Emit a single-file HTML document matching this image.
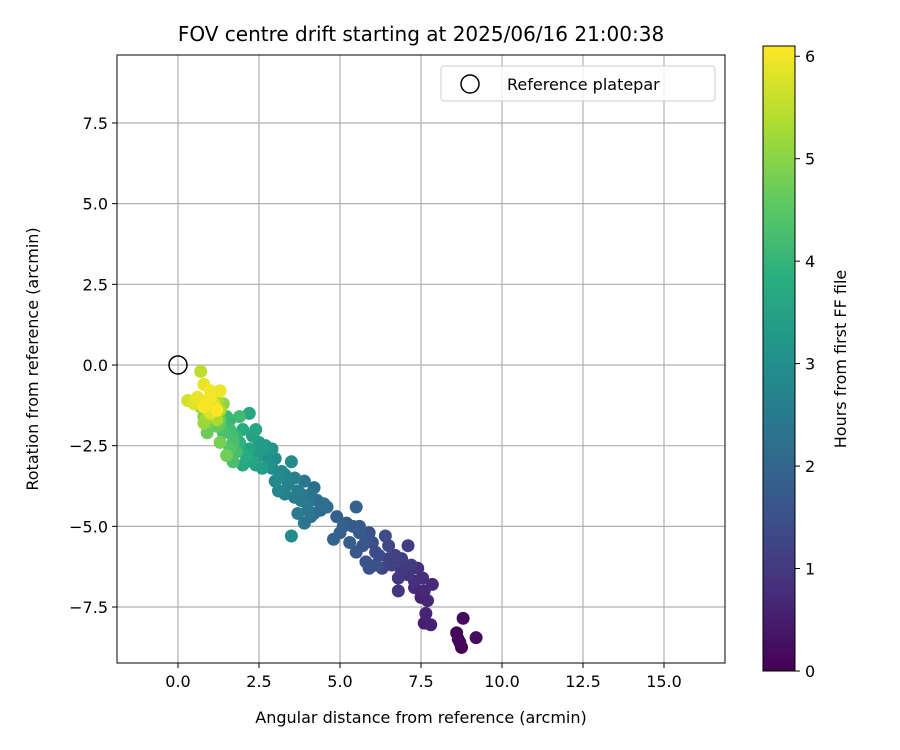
<!DOCTYPE html>
<html><head><meta charset="utf-8"><style>
body{margin:0;background:#fff;font-family:"DejaVu Sans","Liberation Sans",sans-serif;}
svg text{font-family:"DejaVu Sans","Liberation Sans",sans-serif;}
</style></head><body>
<svg id="c" width="900" height="750" xmlns="http://www.w3.org/2000/svg" style="position:absolute;left:0;top:0">
<defs><linearGradient id="vg" x1="0" y1="1" x2="0" y2="0">
<stop offset="0" stop-color="#440154"/><stop offset="0.125" stop-color="#472d7b"/><stop offset="0.25" stop-color="#3b528b"/><stop offset="0.375" stop-color="#2c728e"/><stop offset="0.5" stop-color="#21918c"/><stop offset="0.625" stop-color="#28ae80"/><stop offset="0.75" stop-color="#5ec962"/><stop offset="0.875" stop-color="#addc30"/><stop offset="1" stop-color="#fde725"/></linearGradient></defs>
<g id="grid"></g><g id="pts"></g><g id="axes"></g>
</svg>
<script>
const xs=[8.6,8.7,8.75,8.8,9.2,8.65, 7.6,7.8,7.65,7.7,7.6,7.85,7.55,7.4,7.1,7.3,7.5, 7.1,6.8,6.8,6.6,6.9,6.5,6.4,6.2,6.3,6.0,5.9,6.7,7.2, 5.5,5.2,5.6,5.8,5.5,5.8,5.9,5.3,4.9,4.8,5.0,6.1,5.4, 4.1,4.3,4.4,3.9,3.7,3.9,4.1,3.5,4.0,4.2,3.8,3.6,4.2, 3.5,3.2,3.4,3.0,3.3,2.9,3.1,3.6,2.7,3.0, 2.5,2.7,2.8,2.6,2.4,2.3,2.5,2.9, 2.2,2.0,1.9,2.1,2.3,1.8,2.0,2.4,1.6, 1.5,1.7,1.4,1.9,1.7,1.6,1.3,1.8, 1.0,0.9,1.3,1.2,0.8,1.5,1.1,1.4, 0.7,1.0,1.3,0.9,1.2,0.8, 0.7,0.8,1.0,1.3,0.3,0.5,0.8,1.1,1.0,1.2,1.0,0.9,
 6.1,6.5,7.0,5.7,5.1,4.5,4.0,3.8,3.3,2.8,2.6,2.2,1.9,1.6,1.3,1.1,6.9,7.3,5.6,4.6,3.7,3.1,2.4,1.7,1.2,0.6];
const ys=[-8.3,-8.6,-8.75,-7.85,-8.45,-8.5, -8.0,-8.05,-7.7,-7.3,-7.0,-6.8,-6.6,-6.3,-6.5,-6.7,-7.2, -5.6,-6.6,-7.0,-6.2,-6.0,-5.6,-5.3,-5.9,-6.3,-5.5,-5.2,-5.9,-6.2, -4.4,-4.9,-5.2,-5.4,-5.8,-6.1,-6.3,-5.5,-4.7,-5.4,-5.2,-6.2,-5.0, -4.0,-4.2,-4.5,-3.6,-4.6,-4.9,-4.7,-5.3,-4.3,-3.8,-4.0,-4.1,-4.6, -3.0,-3.3,-3.7,-3.6,-4.0,-3.2,-3.9,-3.5,-2.8,-2.9, -2.4,-2.5,-3.0,-3.2,-2.9,-2.2,-2.7,-2.6, -1.5,-2.0,-2.5,-2.8,-3.0,-2.2,-3.1,-2.0,-1.7, -1.6,-2.2,-2.1,-1.6,-3.0,-2.6,-1.9,-2.7, -1.7,-2.1,-2.4,-1.9,-1.6,-2.8,-1.5,-1.2, -1.3,-1.2,-1.4,-1.6,-1.1,-1.8, -0.2,-0.6,-0.8,-0.8,-1.1,-1.2,-1.3,-1.2,-1.0,-1.4,-1.5,-1.1,
 -5.8,-6.0,-6.2,-5.6,-5.0,-4.3,-4.5,-4.2,-3.4,-3.1,-2.6,-2.6,-2.4,-2.0,-1.7,-1.4,-6.4,-6.9,-5.0,-4.4,-3.9,-3.5,-3.1,-2.4,-1.7,-1.0];
const ts=[0.05,0.1,0.0,0.15,0.2,0.1, 0.5,0.55,0.6,0.65,0.7,0.75,0.8,0.85,0.9,0.8,0.6, 1.1,1.0,0.95,1.15,1.1,1.3,1.4,1.35,1.25,1.45,1.5,1.2,1.05, 1.9,1.7,1.75,1.6,1.65,1.55,1.5,1.8,1.85,1.95,1.9,1.5,1.75, 2.3,2.2,2.1,2.4,2.5,2.35,2.3,2.9,2.45,2.25,2.4,2.5,2.2, 2.9,2.8,2.7,2.85,2.6,2.95,2.75,2.65,3.0,2.9, 3.3,3.2,3.1,3.4,3.35,3.5,3.25,3.15, 3.6,3.7,3.8,3.75,3.55,3.9,3.65,3.6,4.0, 4.1,4.2,4.3,4.15,4.3,4.4,4.45,4.25, 4.6,4.7,4.8,4.65,4.9,4.75,4.85,5.0, 5.1,5.2,5.3,5.25,5.4,5.15, 5.5,5.9,6.0,5.95,5.7,5.8,6.05,5.85,6.0,6.1,5.75,6.0,
 1.4,1.2,0.9,1.6,1.9,2.2,2.4,2.5,2.8,3.1,3.3,3.6,3.9,4.2,4.6,5.0,1.0,0.7,1.7,2.2,2.6,2.9,3.4,4.3,5.3,5.9];
const xTicks=[0,2.5,5,7.5,10,12.5,15], yTicks=[-7.5,-5,-2.5,0,2.5,5,7.5], cTicks=[0,1,2,3,4,5,6];
const L=117,R=725,T=55,B=663;
const X=v=>178+v*32.4, Y=v=>365-v*32.27;
const CB0=671,CB1=46,cmax=6.1; const C=v=>CB0-v*(CB0-CB1)/cmax;
const stops=[[68,1,84],[71,45,123],[59,82,139],[44,114,142],[33,145,140],[40,174,128],[94,201,98],[173,220,48],[253,231,37]];
function vir(t){t=Math.max(0,Math.min(1,t))*8;const i=Math.min(7,Math.floor(t)),f=t-i;const a=stops[i],b=stops[i+1];return `rgb(${a.map((c,k)=>Math.round(c+(b[k]-c)*f)).join(',')})`;}
const NS="http://www.w3.org/2000/svg";
function el(tag,at,p){const e=document.createElementNS(NS,tag);for(const k in at)e.setAttribute(k,at[k]);p.appendChild(e);return e;}
const g=document.getElementById('grid'),P=document.getElementById('pts'),A=document.getElementById('axes');
xTicks.forEach(v=>{const l=el('line',{x1:X(v),x2:X(v),y1:T,y2:B,stroke:'#b0b0b0','stroke-width':1.2},g);


el('line',{x1:X(v),x2:X(v),y1:B,y2:B+5,stroke:'#000'},A);
const t=el('text',{x:X(v),y:B+24,'text-anchor':'middle','font-size':16},A);t.textContent=v.toFixed(1);

});
yTicks.forEach(v=>{const l=el('line',{x1:L,x2:R,y1:Y(v),y2:Y(v),stroke:'#b0b0b0','stroke-width':1.2},g);


el('line',{x1:L-5,x2:L,y1:Y(v),y2:Y(v),stroke:'#000'},A);
const t=el('text',{x:L-9,y:Y(v)+6,'text-anchor':'end','font-size':16},A);t.textContent=(v<0?'\u2212':'')+Math.abs(v).toFixed(1);

});
const idx=ts.map((t,i)=>i).sort((a,b)=>ts[a]-ts[b]);
idx.forEach(i=>{const c=el('circle',{cx:X(xs[i]),cy:Y(ys[i]),r:6.5,fill:vir(ts[i]/cmax)},P);

});
const ref=el('circle',{cx:X(0),cy:Y(0),r:9,fill:'none',stroke:'#000','stroke-width':1.5},P);


el('rect',{x:L,y:T,width:R-L,height:B-T,fill:'none',stroke:'#000','stroke-width':1},A);
const cb=el('rect',{x:763,y:CB1,width:32,height:CB0-CB1,fill:'url(#vg)',stroke:'#000'},A);


cTicks.forEach(v=>{el('line',{x1:795,x2:800,y1:C(v),y2:C(v),stroke:'#000'},A);
const t=el('text',{x:805,y:C(v)+6,'font-size':16},A);t.textContent=v;

});
</script>
<svg style="position:absolute;left:0;top:0" width="900" height="750">
<text x="421" y="41" text-anchor="middle" font-size="20">FOV centre drift starting at 2025/06/16 21:00:38</text>
<text x="421" y="723" text-anchor="middle" font-size="16">Angular distance from reference (arcmin)</text>
<text transform="translate(38,359) rotate(-90)" text-anchor="middle" font-size="16">Rotation from reference (arcmin)</text>
<text transform="translate(846,359) rotate(-90)" text-anchor="middle" font-size="16">Hours from first FF file</text>
<g>
<rect x="441" y="66" width="274" height="35" rx="3" fill="#fff" fill-opacity="0.8" stroke="#ccc"/>
<circle cx="470" cy="84" r="9" fill="none" stroke="#000" stroke-width="1.5"/>
<text x="507" y="90" font-size="16">Reference platepar</text>
</g>
</svg>
</body></html>
